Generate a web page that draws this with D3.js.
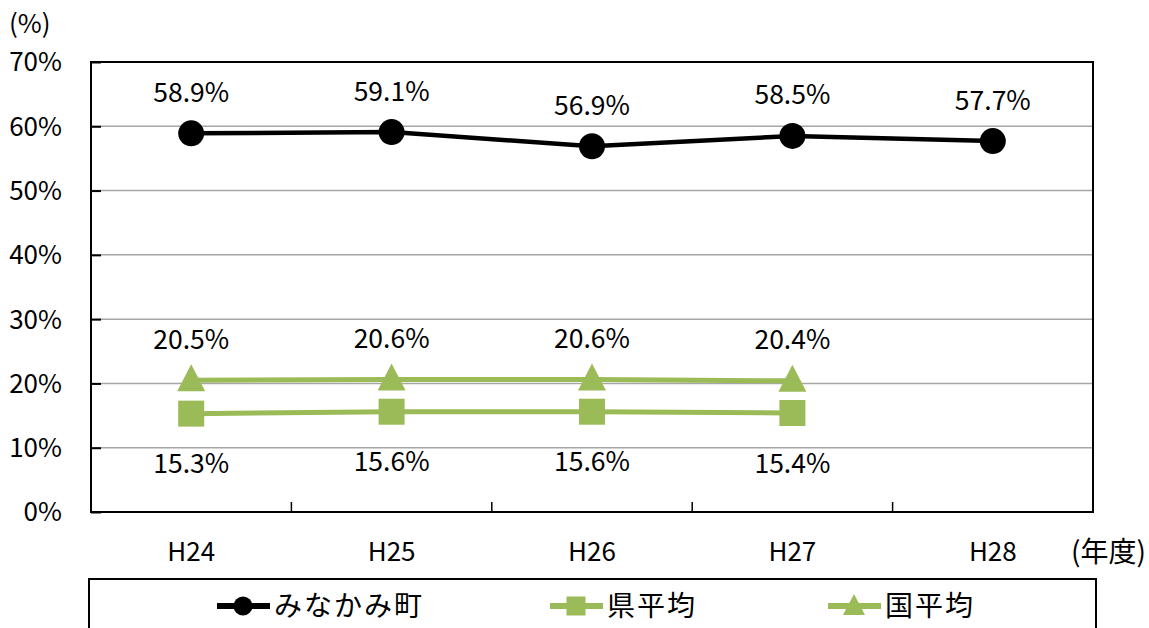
<!DOCTYPE html>
<html><head><meta charset="utf-8">
<script src="https://cdn.jsdelivr.net/npm/d3@7"></script>
<style>
html,body{margin:0;padding:0;background:#fff;}
svg{display:block;font-family:"Noto Sans CJK JP","Noto Sans",sans-serif;}
</style></head>
<body>
<svg id="chart" width="1149" height="628"></svg>
<script>
const categories = ["H24", "H25", "H26", "H27", "H28"];
const townValues = [58.9, 59.1, 56.9, 58.5, 57.7];
const prefValues = [15.3, 15.6, 15.6, 15.4];
const nationValues = [20.5, 20.6, 20.6, 20.4];
const yTicks = [0, 10, 20, 30, 40, 50, 60, 70];
const seriesNames = ["みなかみ町", "県平均", "国平均"];

const svg = d3.select("#chart");
const plotL = 91, plotR = 1093, plotT = 62, plotB = 512;
const green = "#9BBB59";
const fontFam = "'Noto Sans CJK JP','Noto Sans',sans-serif";

const x = d3.scaleBand().domain(categories).range([plotL, plotR]);
const y = d3.scaleLinear().domain([0, 70]).range([plotB, plotT]);
const cx = c => x(c) + x.bandwidth() / 2;

// gridlines
svg.append("g").selectAll("line").data(yTicks.filter(t => t > 0 && t < 70)).join("line")
  .attr("x1", plotL).attr("x2", plotR).attr("y1", d => y(d)).attr("y2", d => y(d))
  .attr("stroke", "#a6a6a6").attr("stroke-width", 1.5);

// y axis with inward ticks
const yAxis = svg.append("g").attr("transform", `translate(${plotL},0)`)
  .call(d3.axisRight(y).tickValues(yTicks).tickSize(10).tickFormat(""));
yAxis.select(".domain").remove();
yAxis.selectAll("line").attr("stroke", "#000").attr("stroke-width", 2);

svg.append("g").selectAll("text").data(yTicks).join("text")
  .attr("x", 62).attr("y", d => y(d)).attr("dy", "0.36em")
  .attr("text-anchor", "end").attr("font-size", 26).attr("fill", "#000")
  .text(d => d + "%");

// x axis with category boundary ticks
const bounds = categories.slice(1).map(c => x(c));
svg.append("g").selectAll("line").data(bounds).join("line")
  .attr("x1", d => d).attr("x2", d => d).attr("y1", plotB).attr("y2", plotB - 10)
  .attr("stroke", "#000").attr("stroke-width", 1.5);
const xAxis = svg.append("g").attr("transform", `translate(0,${plotB + 40})`)
  .call(d3.axisBottom(x).tickSize(0));
xAxis.select(".domain").remove();
xAxis.selectAll("text").attr("font-size", 26).attr("fill", "#000")
  .attr("font-family", fontFam).attr("dy", "0.36em").attr("y", 0);

// plot border
svg.append("rect").attr("x", plotL).attr("y", plotT).attr("width", plotR - plotL).attr("height", plotB - plotT)
  .attr("fill", "none").attr("stroke", "#000").attr("stroke-width", 2);

// unit labels
svg.append("text").attr("x", 9).attr("y", 24).attr("font-size", 26).attr("dy", "0.36em").text("(%)");
svg.append("text").attr("x", 1146).attr("y", 552).attr("font-size", 28).attr("dy", "0.36em")
  .attr("text-anchor", "end").text("(年度)");

const line = d3.line().x((d, i) => cx(categories[i])).y(d => y(d));

// prefecture average (squares)
svg.append("path").datum(prefValues).attr("d", line)
  .attr("fill", "none").attr("stroke", green).attr("stroke-width", 5);
svg.append("g").selectAll("rect").data(prefValues).join("rect")
  .attr("x", (d, i) => cx(categories[i]) - 13).attr("y", d => y(d) - 13)
  .attr("width", 26).attr("height", 26).attr("fill", green);

// national average (triangles)
svg.append("path").datum(nationValues).attr("d", line)
  .attr("fill", "none").attr("stroke", green).attr("stroke-width", 5);
const tri = (px, py) => `M${px},${py - 16}L${px + 14},${py + 11}L${px - 14},${py + 11}Z`;
svg.append("g").selectAll("path").data(nationValues).join("path")
  .attr("d", (d, i) => tri(cx(categories[i]), y(d))).attr("fill", green);

// town (circles)
svg.append("path").datum(townValues).attr("d", line)
  .attr("fill", "none").attr("stroke", "#000").attr("stroke-width", 4.5);
svg.append("g").selectAll("circle").data(townValues).join("circle")
  .attr("cx", (d, i) => cx(categories[i])).attr("cy", d => y(d)).attr("r", 13).attr("fill", "#000");

// value labels
const fmt = d => d.toFixed(1) + "%";
function labels(vals, offset) {
  svg.append("g").selectAll("text").data(vals).join("text")
    .attr("x", (d, i) => cx(categories[i])).attr("y", d => y(d) + offset)
    .attr("dy", "0.36em").attr("text-anchor", "middle").attr("font-size", 26.5).attr("fill", "#000")
    .text(fmt);
}
labels(townValues, -41);
labels(nationValues, -41);
labels(prefValues, 50);

// legend
svg.append("rect").attr("x", 89).attr("y", 579).attr("width", 1007).attr("height", 70)
  .attr("fill", "#fff").attr("stroke", "#000").attr("stroke-width", 2);
const legendItems = [
  {name: seriesNames[0], x: 217, color: "#000", shape: "circle"},
  {name: seriesNames[1], x: 550, color: green, shape: "square"},
  {name: seriesNames[2], x: 828, color: green, shape: "triangle"}
];
const ly = 606;
const lg = svg.append("g").selectAll("g").data(legendItems).join("g");
lg.append("line").attr("x1", d => d.x).attr("x2", d => d.x + 53).attr("y1", ly).attr("y2", ly)
  .attr("stroke", d => d.color).attr("stroke-width", 6);
lg.each(function(d) {
  const g = d3.select(this), mx = d.x + 26;
  if (d.shape === "circle") g.append("circle").attr("cx", mx).attr("cy", ly).attr("r", 9.5).attr("fill", d.color);
  else if (d.shape === "square") g.append("rect").attr("x", mx - 9.5).attr("y", ly - 9.5).attr("width", 19).attr("height", 19).attr("fill", d.color);
  else g.append("path").attr("d", `M${mx},${ly - 12}L${mx + 11},${ly + 9}L${mx - 11},${ly + 9}Z`).attr("fill", d.color);
});
lg.append("text").attr("x", d => d.x + 57).attr("y", ly).attr("dy", "0.36em")
  .attr("font-size", 28).attr("letter-spacing", 2).attr("fill", "#000").text(d => d.name);
</script>
</body></html>
